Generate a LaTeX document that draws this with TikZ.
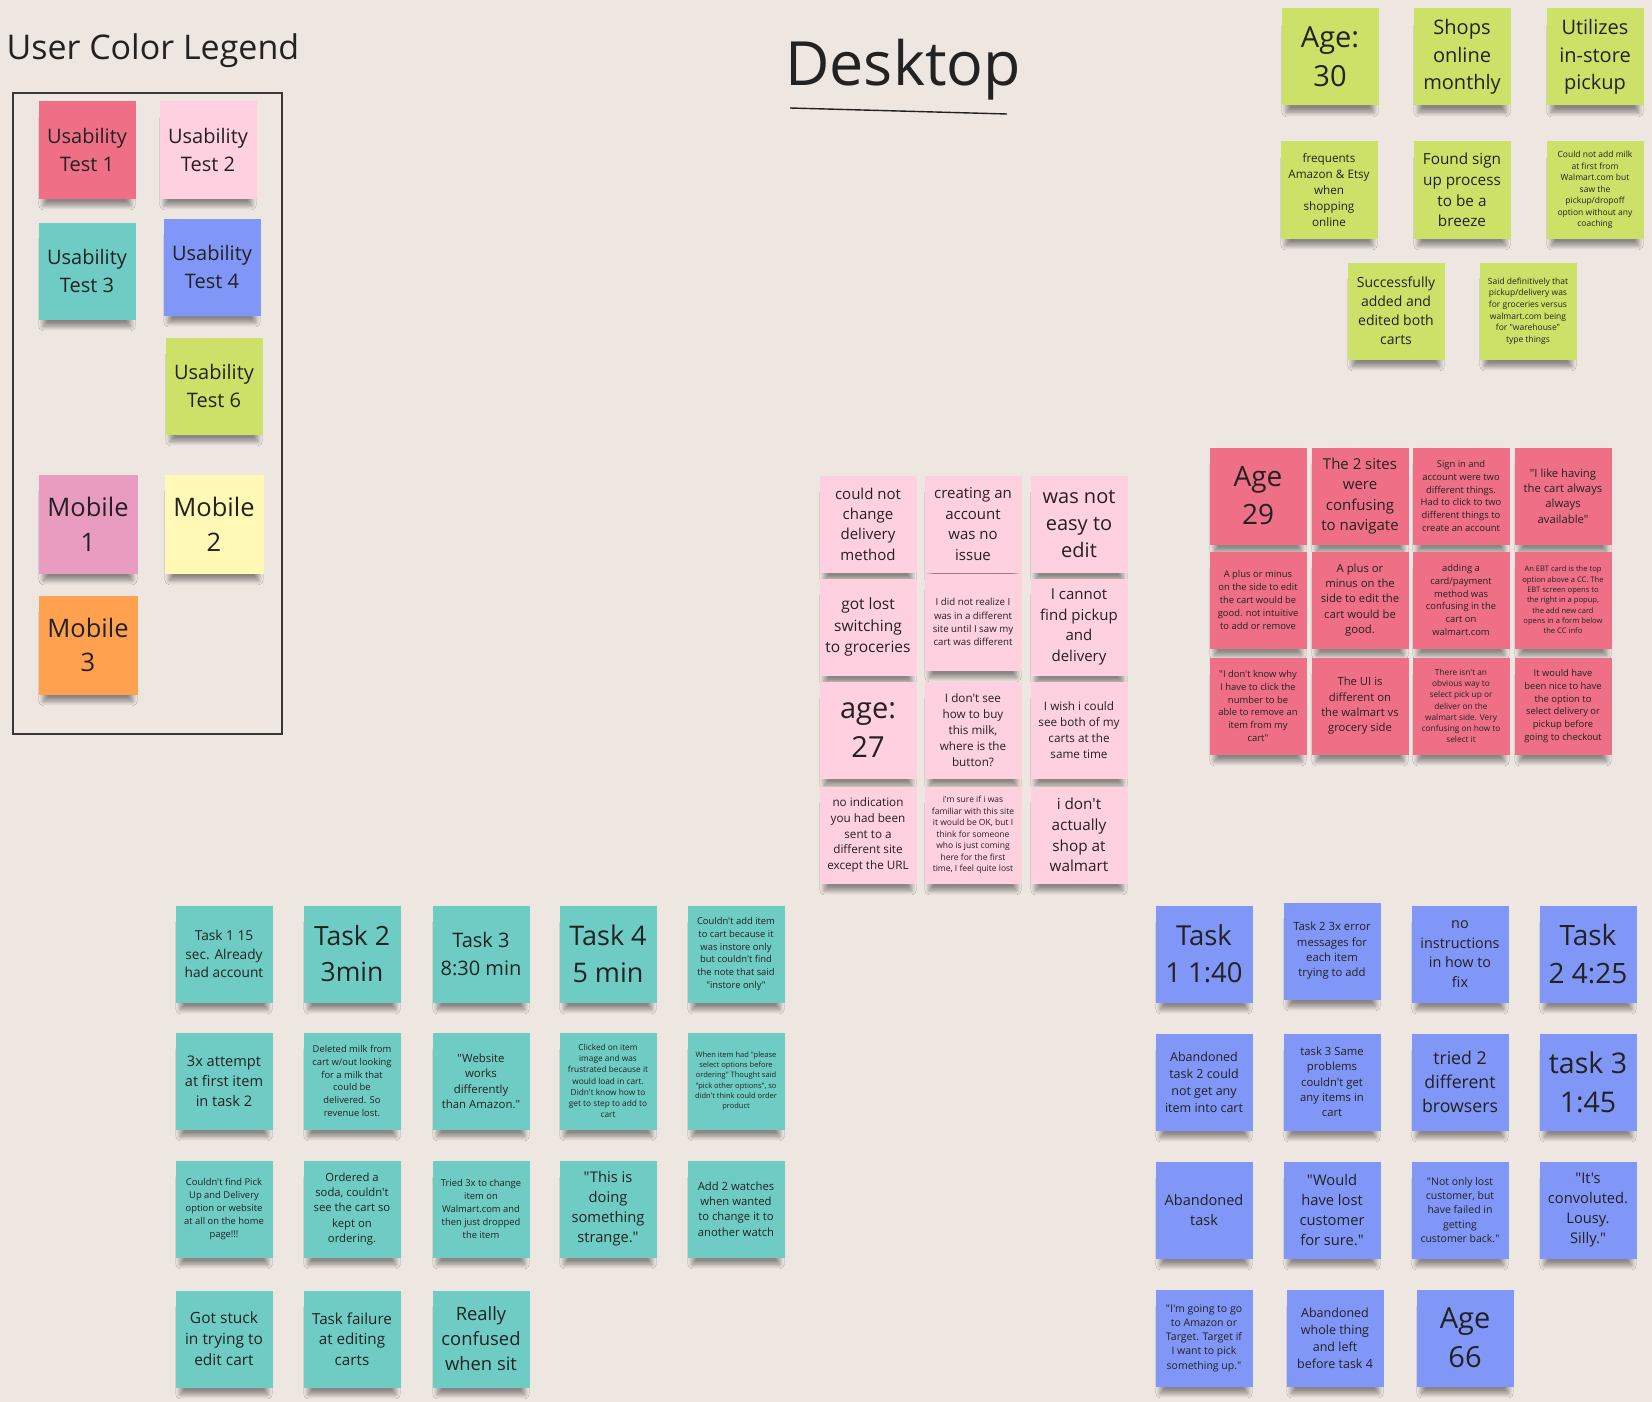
\documentclass[tikz,border=0pt]{standalone}
\usepackage{fontspec}
\setmainfont{Open Sans}[Ligatures=TeXOff]
\usepackage{xcolor}
\usepackage{tikz}
\usetikzlibrary{shadows.blur}

\definecolor{board}{HTML}{EDE6E1}
\definecolor{inktxt}{HTML}{222222}
\definecolor{utone}{HTML}{EF7086}
\definecolor{uttwo}{HTML}{FFD0DF}
\definecolor{utthree}{HTML}{6FCCC4}
\definecolor{utfour}{HTML}{8097F7}
\definecolor{utsix}{HTML}{CDE168}
\definecolor{mobone}{HTML}{E99BC0}
\definecolor{mobtwo}{HTML}{FFF9B5}
\definecolor{mobthree}{HTML}{FFA14F}

% font size in board pixels, line pitch 1.36
\newcommand\fsz[1]{\fontsize{#1}{\fpeval{1.36*#1}}\selectfont}

\begin{document}
\begin{tikzpicture}[x=1pt, y=-1pt,
    sticky/.style={rectangle, inner sep=0pt, minimum width=97, minimum height=97,
        align=center, text=inktxt,
        blur shadow={shadow xshift=0pt, shadow yshift=-13pt, shadow scale=0.9, shadow blur steps=10, shadow blur radius=5pt, shadow opacity=42}},
    red/.style={sticky, fill=utone},
    pink/.style={sticky, fill=uttwo},
    teal/.style={sticky, fill=utthree},
    blue/.style={sticky, fill=utfour},
    lime/.style={sticky, fill=utsix},
    fs/.style={font=\fsz{#1}}]
			\useasboundingbox[fill=board] (0,0) rectangle (1652,1402);
			% Titles
			\node[anchor=base west, text=inktxt, font=\fsz{34}] (legendtitle) at (3,60) {User Color Legend};
			\node[anchor=base, text=inktxt, font=\fsz{61}] (desktop) at (903,86) {Desktop};
			\draw[inktxt, line width=1.4pt] (790,108) -- (1007,114);
			% Legend
			\draw[inktxt!90, line width=1.5pt] (13,93) rectangle (282,734);
			\node[red, fs=20] (ut1) at (87,150) {Usability\\Test 1};
			\node[pink, fs=20] (ut2) at (208,150) {Usability\\Test 2};
			\node[teal, fs=20] (ut3) at (87,271) {Usability\\Test 3};
			\node[blue, fs=20] (ut4) at (212,267) {Usability\\Test 4};
			\node[lime, fs=20] (ut6) at (214,386) {Usability\\Test 6};
			\node[sticky, fill=mobone, minimum size=99, fs=25.5] (mob1) at (88,524) {Mobile\\1};
			\node[sticky, fill=mobtwo, minimum size=99, fs=25.5] (mob2) at (214,524) {Mobile\\2};
			\node[sticky, fill=mobthree, minimum size=99, fs=25.5] (mob3) at (88,645) {Mobile\\3};
			% Usability Test 6
			\node[lime, fs=29] (g1) at (1330,57) {Age:\\30};
			\node[lime, fs=20] (g2) at (1462,57) {Shops\\online\\monthly};
			\node[lime, fs=20] (g3) at (1595,57) {Utilizes\\in-store\\pickup};
			\node[lime, fs=11.7] (g4) at (1329,190) {frequents\\Amazon \& Etsy\\when\\shopping\\online};
			\node[lime, fs=15.3] (g5) at (1462,190) {Found sign\\up process\\to be a\\breeze};
			\node[lime, fs=8.5] (g6) at (1595,190) {Could not add milk\\at first from\\Walmart.com but\\saw the\\pickup/dropoff\\option without any\\coaching};
			\node[lime, fs=14] (g7) at (1396,311) {Successfully\\added and\\edited both\\carts};
			\node[lime, fs=8.5] (g8) at (1528,311) {Said definitively that\\pickup/delivery was\\for groceries versus\\walmart.com being\\for "warehouse"\\type things};
			% Usability Test 2
			\node[pink, fs=15] (p1) at (868,524) {could not\\change\\delivery\\method};
			\node[pink, fs=15] (p2) at (973,524) {creating an\\account\\was no\\issue};
			\node[pink, fs=20] (p3) at (1079,524) {was not\\easy to\\edit};
			\node[pink, fs=15.5] (p4) at (868,627) {got lost\\switching\\to groceries};
			\node[pink, fs=9.7] (p5) at (973,622) {I did not realize I\\was in a different\\site until I saw my\\cart was different};
			\node[pink, fs=15] (p6) at (1079,627) {I cannot\\find pickup\\and\\delivery};
			\node[pink, fs=29] (p7) at (868,730) {age:\\27};
			\node[pink, fs=11.7] (p8) at (973,730) {I don't see\\how to buy\\this milk,\\where is the\\button?};
			\node[pink, fs=11.7] (p9) at (1079,730) {I wish i could\\see both of my\\carts at the\\same time};
			\node[pink, fs=11.7] (p10) at (868,835) {no indication\\you had been\\sent to a\\different site\\except the URL};
			\node[pink, fs=8.5] (p11) at (973,835) {i'm sure if i was\\familiar with this site\\it would be OK, but I\\think for someone\\who is just coming\\here for the first\\time, I feel quite lost};
			\node[pink, fs=15.3] (p12) at (1079,835) {i don't\\actually\\shop at\\walmart};
			% Usability Test 1
			\node[red, fs=28] (r1) at (1258,496) {Age\\29};
			\node[red, fs=15] (r2) at (1360,496) {The 2 sites\\were\\confusing\\to navigate};
			\node[red, fs=9.4] (r3) at (1461,496) {Sign in and\\account were two\\different things.\\Had to click to two\\different things to\\create an account};
			\node[red, fs=11.3] (r4) at (1563,496) {"I like having\\the cart always\\always\\available"};
			\node[red, fs=9.4] (r5) at (1258,600) {A plus or minus\\on the side to edit\\the cart would be\\good. not intuitive\\to add or remove};
			\node[red, fs=11.3] (r6) at (1360,600) {A plus or\\minus on the\\side to edit the\\cart would be\\good.};
			\node[red, fs=9.4] (r7) at (1461,600) {adding a\\card/payment\\method was\\confusing in the\\cart on\\walmart.com};
			\node[red, fs=7.6] (r8) at (1563,600) {An EBT card is the top\\option above a CC. The\\EBT screen opens to\\the right in a popup,\\the add new card\\opens in a form below\\the CC info};
			\node[red, fs=9.4] (r9) at (1258,706) {"I don't know why\\I have to click the\\number to be\\able to remove an\\item from my\\cart"};
			\node[red, fs=11.3] (r10) at (1360,706) {The UI is\\different on\\the walmart vs\\grocery side};
			\node[red, fs=8.3] (r11) at (1461,706) {There isn't an\\obvious way to\\select pick up or\\deliver on the\\walmart side. Very\\confusing on how to\\select it};
			\node[red, fs=9.4] (r12) at (1563,706) {It would have\\been nice to have\\the option to\\select delivery or\\pickup before\\going to checkout};
			% Usability Test 3
			\node[teal, fs=13.7] (t1) at (224,954) {Task 1 15\\sec. Already\\had account};
			\node[teal, fs=26.5] (t2) at (352,954) {Task 2\\3min};
			\node[teal, fs=20] (t3) at (481,954) {Task 3\\8:30 min};
			\node[teal, fs=27] (t4) at (608,954) {Task 4\\5 min};
			\node[teal, fs=9.4] (t5) at (736,954) {Couldn't add item\\to cart because it\\was instore only\\but couldn't find\\the note that said\\"instore only"};
			\node[teal, fs=14.6] (t6) at (224,1081) {3x attempt\\at first item\\in task 2};
			\node[teal, fs=9.4] (t7) at (352,1081) {Deleted milk from\\cart w/out looking\\for a milk that\\could be\\delivered. So\\revenue lost.};
			\node[teal, fs=11.4] (t8) at (481,1081) {"Website\\works\\differently\\than Amazon."};
			\node[teal, fs=8.3] (t9) at (608,1081) {Clicked on item\\image and was\\frustrated because it\\would load in cart.\\Didn't know how to\\get to step to add to\\cart};
			\node[teal, fs=7.5] (t10) at (736,1081) {When item had "please\\select options before\\ordering" Thought said\\"pick other options", so\\didn't think could order\\product};
			\node[teal, fs=9.4] (t11) at (224,1209) {Couldn't find Pick\\Up and Delivery\\option or website\\at all on the home\\page!!!};
			\node[teal, fs=11.3] (t12) at (352,1209) {Ordered a\\soda, couldn't\\see the cart so\\kept on\\ordering.};
			\node[teal, fs=9.4] (t13) at (481,1209) {Tried 3x to change\\item on\\Walmart.com and\\then just dropped\\the item};
			\node[teal, fs=14.7] (t14) at (608,1209) {"This is\\doing\\something\\strange."};
			\node[teal, fs=11.3] (t15) at (736,1209) {Add 2 watches\\when wanted\\to change it to\\another watch};
			\node[teal, fs=15.5] (t16) at (224,1339) {Got stuck\\in trying to\\edit cart};
			\node[teal, fs=15.2] (t17) at (352,1339) {Task failure\\at editing\\carts};
			\node[teal, fs=18.4] (t18) at (481,1339) {Really\\confused\\when sit};
			% Usability Test 4
			\node[blue, fs=27.5] (b1) at (1204,954) {Task\\1 1:40};
			\node[blue, fs=11.3] (b2) at (1332,951) {Task 2 3x error\\messages for\\each item\\trying to add};
			\node[blue, fs=14.4] (b3) at (1460,954) {no\\instructions\\in how to\\fix};
			\node[blue, fs=28] (b4) at (1588,954) {Task\\2 4:25};
			\node[blue, fs=12.5] (b5) at (1204,1082) {Abandoned\\task 2 could\\not get any\\item into cart};
			\node[blue, fs=11.3] (b6) at (1332,1082) {task 3 Same\\problems\\couldn't get\\any items in\\cart};
			\node[blue, fs=17.7] (b7) at (1460,1082) {tried 2\\different\\browsers};
			\node[blue, fs=28.5] (b8) at (1588,1082) {task 3\\1:45};
			\node[blue, fs=14.5] (b9) at (1204,1210) {Abandoned\\task};
			\node[blue, fs=14.7] (b10) at (1332,1210) {"Would\\have lost\\customer\\for sure."};
			\node[blue, fs=10.5] (b11) at (1460,1210) {"Not only lost\\customer, but\\have failed in\\getting\\customer back."};
			\node[blue, fs=14.7] (b12) at (1588,1210) {"It's\\convoluted.\\Lousy.\\Silly."};
			\node[blue, fs=10.5] (b13) at (1204,1338) {"I'm going to go\\to Amazon or\\Target. Target if\\I want to pick\\something up."};
			\node[blue, fs=12.5] (b14) at (1335,1338) {Abandoned\\whole thing\\and left\\before task 4};
			\node[blue, fs=29] (b15) at (1465,1338) {Age\\66};
		\end{tikzpicture}
\end{document}
